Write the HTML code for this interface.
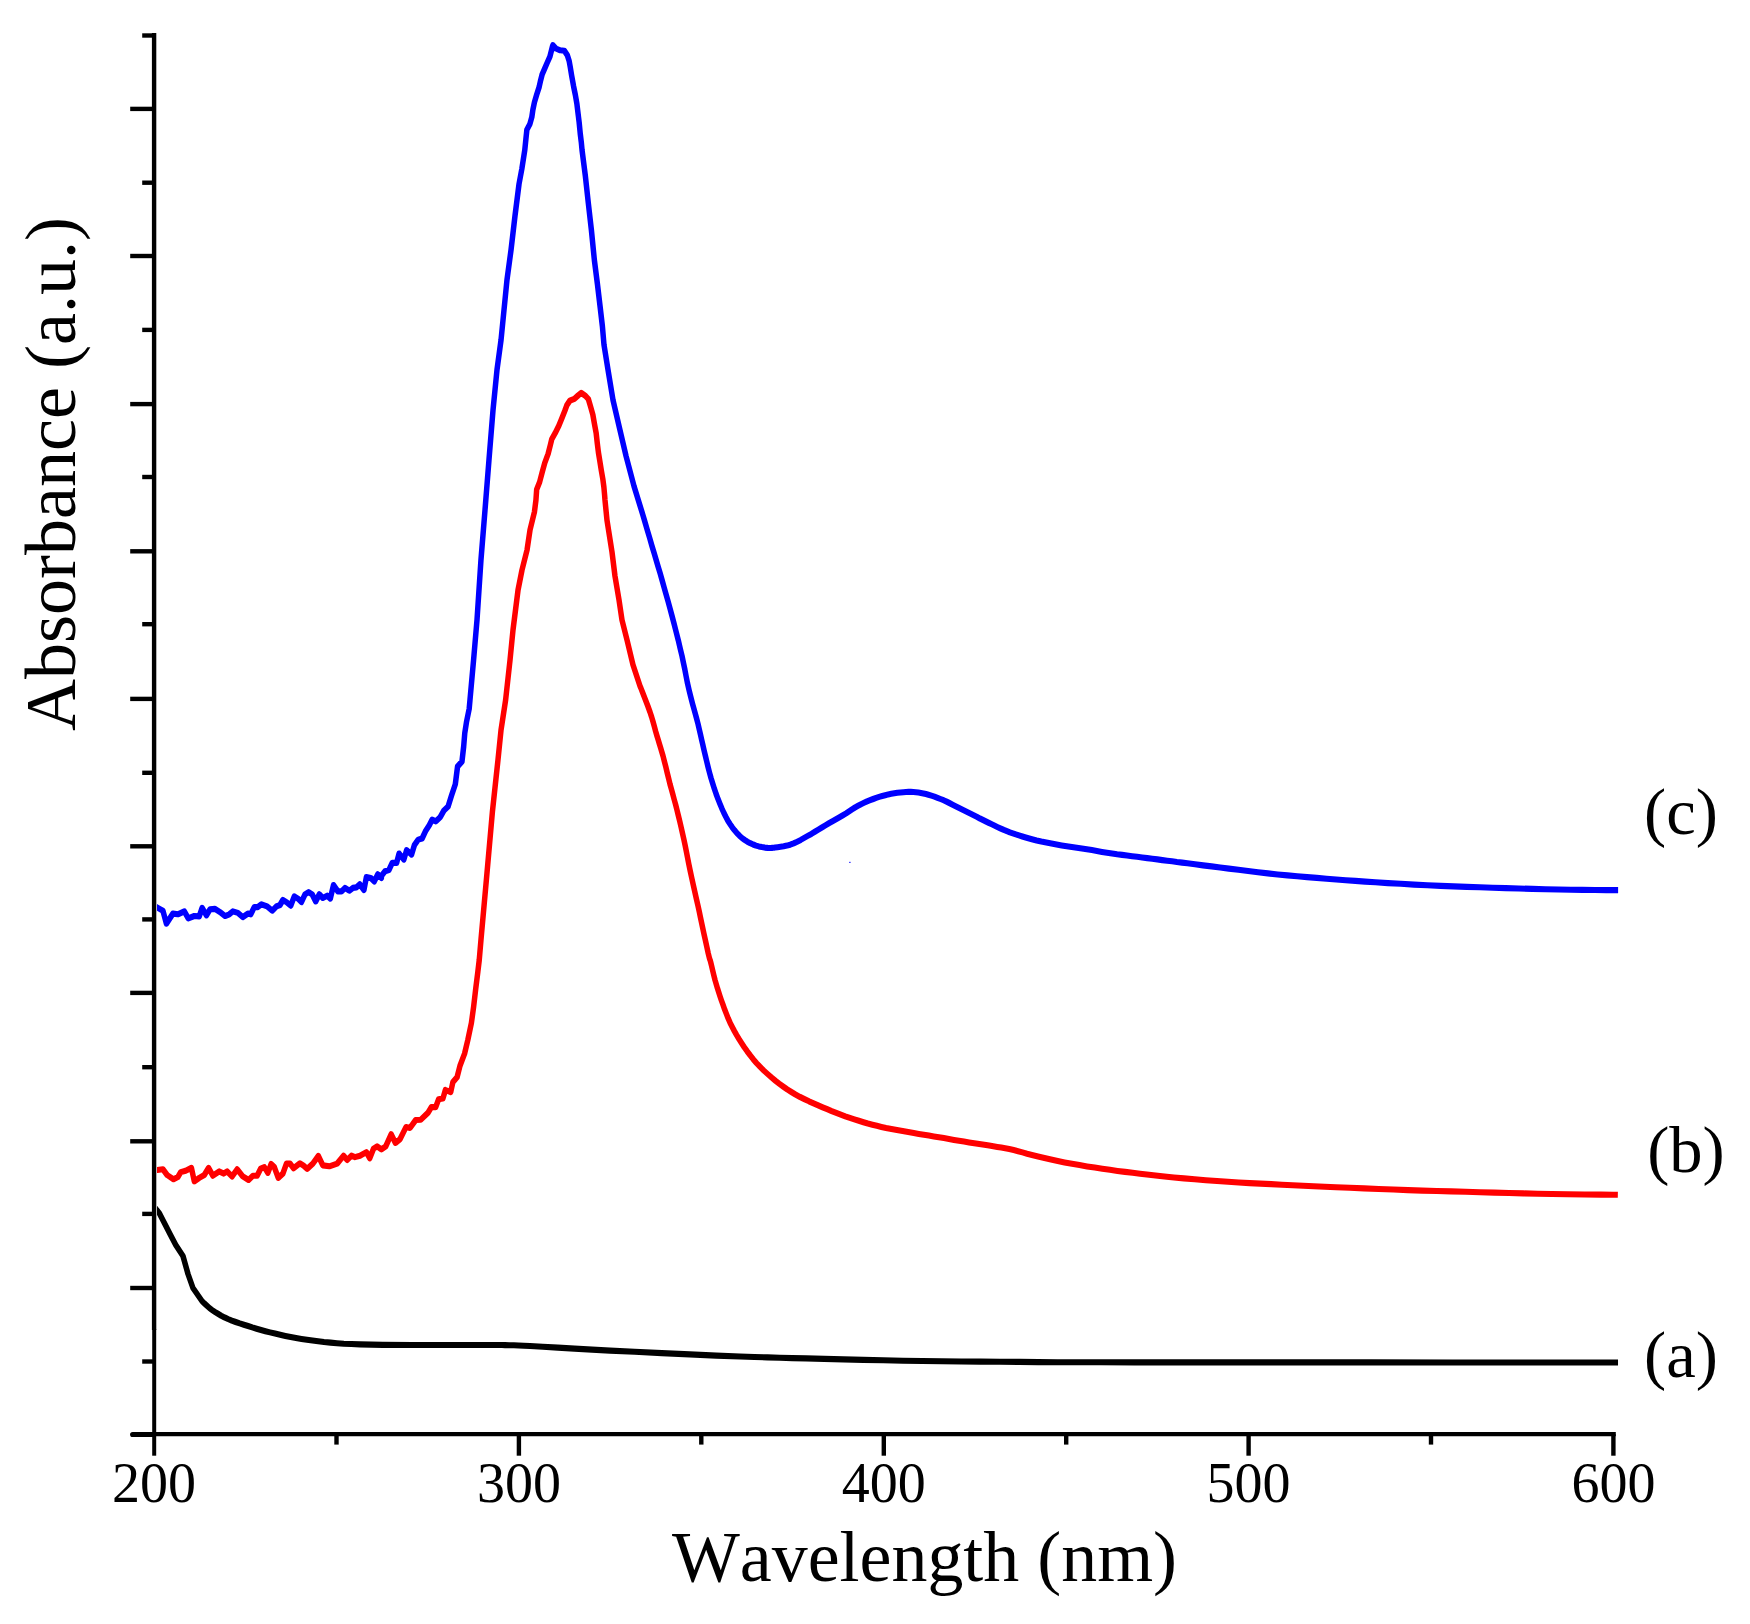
<!DOCTYPE html>
<html><head><meta charset="utf-8"><title>UV-Vis Absorbance</title>
<style>
html,body{margin:0;padding:0;background:#fff;}
body{width:1750px;height:1624px;overflow:hidden;}
svg{display:block;}
text{font-family:"Liberation Serif","Times New Roman",serif;fill:#000;font-kerning:none;}
</style></head><body>
<svg width="1750" height="1624" viewBox="0 0 1750 1624">
<rect width="1750" height="1624" fill="#fff"/>
<g stroke="#000" stroke-width="4.4" fill="none" stroke-linecap="butt">
<line x1="154.1" y1="32.9" x2="154.1" y2="1330"/>
<line x1="154.2" y1="1329" x2="154.2" y2="1455.7" stroke-width="4"/>
<line x1="152" y1="1434.1" x2="1615.8" y2="1434.1"/>
<line x1="132.6" y1="1434.5" x2="153" y2="1434.5" stroke-width="5.1" stroke-linecap="round"/>
<line x1="142.2" y1="35.5" x2="154.1" y2="35.5"/>
<line x1="130.2" y1="108.9" x2="154.1" y2="108.9"/>
<line x1="142.2" y1="182.7" x2="154.1" y2="182.7"/>
<line x1="130.2" y1="256.0" x2="154.1" y2="256.0"/>
<line x1="142.2" y1="329.9" x2="154.1" y2="329.9"/>
<line x1="130.2" y1="404.1" x2="154.1" y2="404.1"/>
<line x1="142.2" y1="477.0" x2="154.1" y2="477.0"/>
<line x1="130.2" y1="551.3" x2="154.1" y2="551.3"/>
<line x1="142.2" y1="624.2" x2="154.1" y2="624.2"/>
<line x1="130.2" y1="698.9" x2="154.1" y2="698.9"/>
<line x1="142.2" y1="772.8" x2="154.1" y2="772.8"/>
<line x1="130.2" y1="846.3" x2="154.1" y2="846.3"/>
<line x1="142.2" y1="919.4" x2="154.1" y2="919.4"/>
<line x1="130.2" y1="992.9" x2="154.1" y2="992.9"/>
<line x1="142.2" y1="1067.2" x2="154.1" y2="1067.2"/>
<line x1="130.2" y1="1141.3" x2="154.1" y2="1141.3"/>
<line x1="142.2" y1="1213.9" x2="154.1" y2="1213.9"/>
<line x1="130.2" y1="1288.0" x2="154.1" y2="1288.0"/>
<line x1="142.2" y1="1361.5" x2="154.1" y2="1361.5"/>
<line x1="336.5" y1="1434.1" x2="336.5" y2="1444.6"/>
<line x1="518.9" y1="1434.1" x2="518.9" y2="1455.7"/>
<line x1="701.3" y1="1434.1" x2="701.3" y2="1444.6"/>
<line x1="883.8" y1="1434.1" x2="883.8" y2="1455.7"/>
<line x1="1066.2" y1="1434.1" x2="1066.2" y2="1444.6"/>
<line x1="1248.6" y1="1434.1" x2="1248.6" y2="1455.7"/>
<line x1="1431.0" y1="1434.1" x2="1431.0" y2="1444.6"/>
<line x1="1613.4" y1="1434.1" x2="1613.4" y2="1455.7"/>
</g>
<clipPath id="plot"><rect x="156.9" y="0" width="1600" height="1624"/></clipPath>
<g clip-path="url(#plot)"><g fill="none" stroke-width="6.1" stroke-linejoin="round" stroke-linecap="butt" transform="scale(0.9,1)">
<polyline stroke="#000" points="171.8,1207.3 174.4,1210.2 177.2,1213.5 184.2,1225.8 188.9,1234.0 195.3,1245.0 203.3,1256.0 208.9,1274.0 214.4,1288.0 224.4,1301.0 225.2,1301.7 227.1,1303.4 229.8,1305.6 232.7,1308.0 235.6,1310.0 238.7,1311.9 242.2,1313.8 245.8,1315.7 249.5,1317.4 253.3,1319.0 257.6,1320.6 261.9,1322.0 266.4,1323.4 271.0,1324.7 275.6,1326.0 280.3,1327.4 285.1,1328.7 290.0,1330.0 294.9,1331.2 300.0,1332.4 305.6,1333.6 311.3,1334.8 317.1,1335.9 323.0,1337.0 328.9,1338.0 335.0,1338.9 341.0,1339.8 347.2,1340.6 353.5,1341.3 360.0,1342.0 367.3,1342.6 374.4,1343.2 382.0,1343.7 390.3,1344.0 400.0,1344.4 425.4,1344.9 458.2,1345.0 492.6,1345.0 523.2,1345.0 544.4,1345.0 548.8,1345.0 552.1,1345.0 554.9,1345.0 557.8,1345.0 561.1,1345.1 566.0,1345.2 571.0,1345.3 576.3,1345.5 582.2,1345.7 588.9,1346.0 603.1,1346.7 619.8,1347.6 638.3,1348.6 657.8,1349.6 677.8,1350.6 705.2,1351.8 735.4,1353.1 766.3,1354.4 795.9,1355.6 822.2,1356.5 838.2,1357.0 852.7,1357.4 866.4,1357.7 880.4,1358.1 895.6,1358.4 915.8,1358.9 937.2,1359.4 959.2,1359.9 981.4,1360.3 1003.3,1360.7 1024.9,1361.0 1046.4,1361.3 1067.9,1361.5 1089.5,1361.6 1111.1,1361.8 1132.6,1361.9 1153.6,1362.1 1175.0,1362.2 1197.5,1362.2 1222.2,1362.3 1261.0,1362.4 1303.2,1362.4 1348.2,1362.4 1395.5,1362.4 1444.4,1362.4 1521.2,1362.4 1613.8,1362.5 1703.4,1362.5 1771.0,1362.5 1797.8,1362.5"/>
<polyline stroke="#f00" points="171.1,1170.0 174.6,1170.0 181.0,1169.3 185.7,1175.0 192.9,1179.3 197.6,1177.1 200.8,1172.1 206.3,1170.7 212.7,1167.9 215.9,1181.4 221.4,1177.9 227.0,1175.0 231.7,1167.9 236.5,1175.7 243.7,1171.4 248.4,1173.6 252.4,1171.4 257.9,1176.4 263.5,1169.3 269.8,1176.4 276.2,1180.0 281.0,1175.7 285.7,1175.7 289.7,1168.6 293.7,1167.1 297.6,1172.9 301.3,1164.0 304.8,1167.1 309.2,1177.9 314.3,1173.6 318.3,1163.6 322.2,1163.6 326.2,1168.3 333.3,1163.3 337.3,1165.7 341.3,1168.9 347.6,1163.6 353.7,1156.0 358.7,1165.4 365.9,1166.3 374.6,1163.6 381.7,1155.7 385.7,1160.0 390.5,1155.7 394.4,1157.1 400.0,1155.7 407.1,1152.1 410.8,1158.3 415.1,1148.6 419.0,1146.4 423.8,1149.3 428.6,1146.4 434.6,1134.3 439.4,1142.9 444.4,1139.3 451.1,1127.1 455.6,1127.9 461.9,1120.0 467.5,1119.7 475.4,1112.9 479.4,1107.1 484.1,1107.1 487.3,1099.3 492.1,1098.6 494.9,1090.0 500.8,1092.1 503.2,1082.1 507.9,1077.1 511.1,1065.7 516.2,1053.6 519.8,1040.0 523.8,1022.9 526.2,1007.1 528.6,988.6 531.0,971.4 532.5,960.0 534.4,940.0 540.4,880.0 547.1,812.0 553.3,760.0 556.7,730.0 561.8,700.0 566.7,660.0 570.0,630.0 575.6,590.0 580.0,570.0 585.6,550.0 588.9,530.0 593.8,512.0 595.5,500.0 596.3,489.4 599.6,482.0 602.4,472.4 605.3,462.8 609.0,453.9 611.5,445.0 613.1,439.1 616.8,433.2 620.9,425.8 624.2,418.4 627.5,411.0 629.9,405.1 633.2,400.7 638.2,398.8 642.3,395.5 645.8,392.9 650.5,395.9 653.8,399.2 656.2,406.6 658.7,414.7 660.3,422.9 662.4,433.2 663.6,442.8 664.9,452.4 666.5,461.3 668.1,470.2 669.8,479.0 671.0,487.2 671.8,495.3 672.2,500.0 674.4,520.0 680.0,552.0 683.3,576.0 687.8,600.0 691.1,620.0 696.7,640.0 703.3,664.8 711.1,686.0 712.0,687.9 714.1,692.7 716.9,699.2 719.8,706.0 722.2,712.0 724.0,716.9 725.6,721.8 727.1,726.6 728.5,731.4 730.0,736.0 731.4,740.1 732.7,744.0 734.0,747.8 735.3,751.8 736.7,756.0 738.2,761.3 739.8,766.9 741.3,772.6 742.9,778.4 744.4,784.0 746.0,789.2 747.6,794.4 749.1,799.5 750.7,804.7 752.2,810.0 753.8,815.9 755.4,821.8 757.0,827.9 758.5,834.0 760.0,840.0 761.4,846.0 762.7,851.9 764.0,857.8 765.3,863.8 766.7,870.0 768.4,877.1 770.2,884.4 772.0,891.8 773.8,899.0 775.6,906.0 777.0,911.8 778.3,917.5 779.6,923.0 780.9,928.5 782.2,934.0 783.7,940.1 785.4,946.9 786.9,953.2 788.2,958.0 788.9,960.0 788.9,960.0 788.9,960.0 788.9,960.0 788.9,960.0 789.0,960.0 789.5,961.6 790.5,965.3 791.8,970.2 793.2,975.5 794.5,980.1 795.8,984.1 797.1,988.1 798.5,992.1 800.0,996.2 801.5,1000.2 803.3,1004.7 805.1,1009.3 807.1,1013.9 809.1,1018.4 811.3,1022.9 813.6,1027.0 816.0,1031.1 818.5,1035.1 821.1,1039.0 823.9,1043.0 826.9,1047.1 830.1,1051.2 833.5,1055.3 837.0,1059.3 840.6,1063.1 844.5,1066.8 848.6,1070.5 852.9,1074.0 857.2,1077.4 861.6,1080.7 865.9,1083.7 870.3,1086.6 874.7,1089.4 879.3,1092.0 883.9,1094.5 888.8,1096.9 893.8,1099.1 898.9,1101.3 904.0,1103.3 909.1,1105.3 914.1,1107.3 919.1,1109.2 924.1,1111.1 929.2,1112.9 934.2,1114.6 939.2,1116.3 944.3,1117.9 949.3,1119.4 954.3,1120.8 959.4,1122.2 964.3,1123.5 969.3,1124.7 974.3,1125.8 979.3,1126.9 984.5,1128.0 990.5,1129.1 996.6,1130.1 1002.9,1131.1 1009.1,1132.0 1015.3,1133.0 1020.9,1133.9 1026.5,1134.7 1032.1,1135.6 1037.6,1136.4 1043.2,1137.3 1048.8,1138.1 1054.4,1139.0 1060.0,1139.9 1065.5,1140.7 1071.1,1141.5 1076.8,1142.4 1082.5,1143.2 1088.1,1144.0 1093.7,1144.8 1099.1,1145.6 1103.7,1146.2 1108.1,1146.9 1112.5,1147.6 1116.9,1148.3 1121.4,1149.1 1126.3,1150.1 1131.2,1151.2 1136.1,1152.4 1141.2,1153.7 1146.6,1154.9 1153.4,1156.4 1160.5,1157.9 1167.8,1159.5 1175.3,1161.0 1182.9,1162.4 1191.1,1163.8 1199.4,1165.1 1207.9,1166.4 1216.4,1167.6 1224.8,1168.7 1233.2,1169.8 1241.7,1170.9 1250.1,1171.9 1258.5,1172.8 1266.7,1173.7 1274.2,1174.5 1281.5,1175.3 1288.8,1176.0 1296.4,1176.8 1304.4,1177.5 1315.5,1178.4 1327.4,1179.3 1339.8,1180.2 1352.2,1181.0 1364.4,1181.8 1376.4,1182.5 1388.4,1183.1 1400.4,1183.6 1412.4,1184.1 1424.4,1184.7 1436.3,1185.2 1448.0,1185.7 1459.8,1186.2 1471.9,1186.7 1484.4,1187.2 1499.7,1187.8 1515.6,1188.4 1531.9,1189.0 1548.2,1189.5 1564.4,1190.1 1580.4,1190.6 1596.4,1191.0 1612.4,1191.4 1628.4,1191.8 1644.4,1192.2 1660.5,1192.6 1676.6,1193.0 1692.7,1193.4 1708.6,1193.7 1724.4,1194.0 1741.6,1194.3 1760.9,1194.5 1779.0,1194.6 1792.4,1194.7 1797.6,1194.8"/>
<polyline stroke="#00f" points="172.8,906.6 175.4,907.9 181.0,910.7 184.9,923.6 192.1,913.6 197.6,914.3 204.8,911.4 209.2,918.3 215.9,916.0 221.4,916.4 224.6,907.9 229.4,915.4 233.3,909.3 238.9,908.9 244.4,912.1 250.0,916.0 254.8,914.3 258.7,911.4 264.3,912.9 269.8,917.1 275.4,913.6 278.6,914.3 282.5,907.1 286.5,907.1 290.5,904.3 296.8,906.4 302.4,910.7 307.1,906.4 311.1,905.0 314.3,900.0 318.3,902.1 323.0,905.7 327.0,896.4 331.0,898.6 334.9,902.1 338.9,894.3 342.9,892.1 346.8,894.3 350.8,901.4 354.8,894.3 358.7,897.9 363.5,895.7 367.0,898.6 370.6,885.0 375.4,891.4 379.4,891.4 383.3,887.9 388.1,890.7 392.1,887.9 396.0,887.4 399.7,884.3 404.4,890.0 407.1,877.1 411.9,877.9 415.9,881.4 419.8,874.3 423.8,877.9 423.5,876.2 427.8,871.2 432.1,870.1 435.8,862.9 440.7,862.9 443.4,853.5 448.7,859.6 451.8,850.1 457.3,854.6 460.4,845.2 464.7,839.6 469.0,838.5 472.7,831.3 477.0,825.2 480.1,819.7 484.4,821.3 489.3,816.9 493.0,810.8 497.9,806.4 501.6,795.8 505.9,784.2 508.4,766.5 513.3,761.5 515.2,746.5 516.4,733.2 518.3,722.2 521.3,708.9 522.2,700.0 526.2,660.0 530.0,620.0 534.4,560.0 538.9,510.0 543.3,460.0 547.8,410.0 552.2,370.0 556.7,340.0 560.0,310.0 563.3,280.0 567.8,250.0 572.2,216.0 576.7,184.0 579.8,169.0 583.1,150.0 584.3,139.4 585.4,129.8 588.8,123.9 590.9,117.2 592.1,109.8 593.8,102.4 596.2,95.0 599.1,86.9 600.7,80.3 602.4,74.3 605.3,68.4 608.1,62.5 611.0,56.6 612.7,50.7 613.9,46.3 614.3,45.2 617.6,48.5 622.5,50.3 627.0,50.7 630.3,55.1 632.4,61.0 633.6,67.0 635.2,75.8 637.3,86.2 639.3,95.0 641.0,103.9 642.2,112.8 643.5,122.4 644.7,133.5 645.9,142.3 646.7,150.0 650.4,176.0 653.8,204.0 657.1,230.0 660.4,260.0 663.8,284.0 666.7,306.0 669.3,326.0 671.1,344.8 675.6,370.0 681.1,400.0 687.8,426.0 695.6,456.0 704.4,486.0 713.3,512.0 714.1,514.4 716.2,520.7 718.9,529.1 721.9,538.1 724.4,546.0 726.7,552.8 728.9,559.5 731.1,566.3 733.4,573.1 735.6,580.0 737.8,587.1 740.0,594.2 742.3,601.4 744.5,608.7 746.7,616.0 749.0,623.9 751.3,632.0 753.6,640.1 755.7,648.2 757.8,656.0 759.4,663.0 761.0,669.8 762.4,676.5 763.9,683.3 765.6,690.0 767.5,696.9 769.5,703.8 771.6,710.7 773.7,717.5 775.6,724.0 777.0,729.4 778.3,734.6 779.6,739.7 780.9,744.8 782.2,750.0 783.7,755.6 785.2,761.2 786.7,766.9 788.3,772.5 790.0,778.0 791.8,783.3 793.7,788.7 795.7,794.0 797.8,799.1 800.0,804.0 802.0,808.3 804.1,812.5 806.3,816.5 808.6,820.4 811.1,824.0 813.5,827.2 816.1,830.2 818.7,833.0 821.5,835.6 824.4,838.0 827.3,839.9 830.4,841.7 833.6,843.2 836.8,844.5 840.0,845.6 843.2,846.4 846.5,847.1 849.8,847.6 852.9,847.9 855.6,848.0 856.8,848.0 857.9,847.9 858.9,847.8 859.9,847.7 861.2,847.5 864.0,847.2 867.3,846.8 870.8,846.3 874.4,845.6 878.0,844.7 881.8,843.4 885.8,841.7 889.7,839.9 893.6,837.9 897.5,835.9 901.5,833.9 905.4,831.8 909.3,829.6 913.2,827.5 917.1,825.4 921.0,823.3 925.0,821.3 928.9,819.3 932.8,817.3 936.6,815.3 940.1,813.4 943.4,811.4 946.7,809.4 950.0,807.5 953.4,805.8 956.7,804.2 960.0,802.8 963.4,801.4 966.8,800.2 970.2,799.0 973.5,797.9 976.8,796.9 980.2,796.0 983.6,795.2 986.9,794.4 990.3,793.8 993.7,793.3 997.1,792.8 1000.4,792.5 1003.7,792.2 1006.6,792.0 1009.4,791.9 1012.1,791.9 1014.9,792.0 1017.7,792.2 1020.5,792.5 1023.2,792.9 1026.0,793.4 1028.8,794.0 1031.6,794.7 1034.9,795.6 1038.3,796.6 1041.7,797.8 1045.0,799.0 1048.4,800.2 1051.8,801.6 1055.1,803.1 1058.5,804.7 1061.8,806.2 1065.2,807.8 1068.5,809.3 1071.9,810.8 1075.2,812.3 1078.6,813.8 1081.9,815.3 1085.3,816.8 1088.6,818.4 1092.0,819.9 1095.3,821.4 1098.7,822.9 1102.0,824.3 1105.4,825.8 1108.7,827.2 1112.1,828.6 1115.4,829.9 1118.8,831.1 1122.1,832.3 1125.4,833.3 1128.8,834.4 1132.2,835.4 1136.0,836.5 1139.7,837.5 1143.6,838.5 1147.6,839.5 1151.8,840.5 1157.0,841.6 1162.6,842.6 1168.3,843.6 1174.0,844.6 1179.7,845.5 1185.3,846.3 1190.9,847.1 1196.5,847.8 1202.1,848.5 1207.6,849.3 1213.2,850.1 1218.8,851.0 1224.4,851.9 1230.0,852.7 1235.6,853.5 1241.2,854.3 1246.8,854.9 1252.3,855.5 1257.9,856.2 1263.5,856.8 1269.1,857.5 1274.7,858.1 1280.3,858.8 1285.9,859.4 1291.5,860.1 1296.9,860.7 1302.3,861.3 1307.7,862.0 1313.4,862.6 1319.4,863.3 1327.8,864.3 1336.8,865.4 1346.2,866.4 1355.8,867.5 1365.4,868.6 1376.0,869.8 1386.8,871.0 1397.7,872.2 1408.8,873.4 1419.7,874.5 1430.5,875.4 1441.4,876.3 1452.3,877.1 1463.1,877.9 1474.0,878.7 1484.7,879.5 1495.3,880.2 1506.0,880.9 1516.9,881.6 1528.3,882.3 1542.1,883.1 1556.5,883.8 1571.2,884.6 1586.0,885.2 1600.7,885.9 1615.1,886.4 1629.6,886.9 1644.1,887.3 1658.6,887.7 1673.0,888.1 1687.7,888.5 1702.5,888.9 1717.3,889.2 1731.7,889.5 1745.4,889.8 1758.1,889.9 1772.1,890.0 1784.9,890.1 1794.3,890.1 1797.9,890.1"/>
</g></g>
<rect x="849.3" y="861.8" width="1.2" height="1.2" fill="#00f"/>
<text x="154.1" y="1501.5" text-anchor="middle" font-size="56">200</text>
<text x="518.9" y="1501.5" text-anchor="middle" font-size="56">300</text>
<text x="883.8" y="1501.5" text-anchor="middle" font-size="56">400</text>
<text x="1248.6" y="1501.5" text-anchor="middle" font-size="56">500</text>
<text x="1613.4" y="1501.5" text-anchor="middle" font-size="56">600</text>

<text x="672" y="1580.6" font-size="71" textLength="505" lengthAdjust="spacingAndGlyphs">Wavelength (nm)</text>
<text transform="translate(75,731) rotate(-90)" font-size="71" textLength="514" lengthAdjust="spacingAndGlyphs">Absorbance (a.u.)</text>
<text x="1681" y="1377" text-anchor="middle" font-size="66.5">(a)</text>
<text x="1686" y="1172" text-anchor="middle" font-size="66.5">(b)</text>
<text x="1681" y="834" text-anchor="middle" font-size="66.5">(c)</text>
</svg>
</body></html>
